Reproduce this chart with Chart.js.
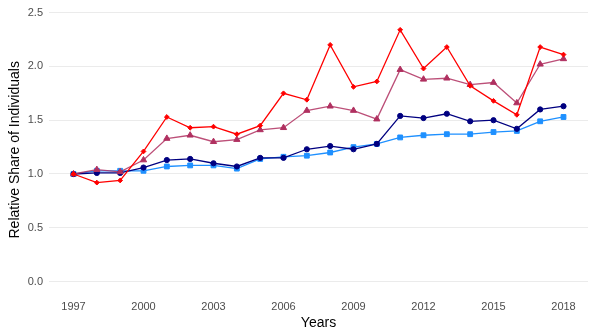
<!DOCTYPE html>
<html>
<head>
<meta charset="utf-8">
<script src="https://cdn.jsdelivr.net/npm/chart.js@4/dist/chart.umd.min.js"></script>
<style>
  html, body { margin: 0; padding: 0; background: #ffffff; }
  #wrap { width: 600px; height: 332px; }
</style>
</head>
<body>
<div id="wrap"><canvas id="c" width="600" height="332"></canvas></div>
<script>
// Years on the x axis
const years = [1997, 1998, 1999, 2000, 2001, 2002, 2003, 2004, 2005, 2006, 2007,
               2008, 2009, 2010, 2011, 2012, 2013, 2014, 2015, 2016, 2017, 2018];

// Relative share series (1997 = 1.0)
const seriesRed = [1.00, 0.92, 0.94, 1.21, 1.53, 1.43, 1.44, 1.37, 1.45, 1.75, 1.69,
                   2.20, 1.81, 1.86, 2.34, 1.98, 2.18, 1.82, 1.68, 1.55, 2.18, 2.11];
const seriesMaroon = [1.00, 1.04, 1.02, 1.13, 1.33, 1.36, 1.30, 1.32, 1.41, 1.43, 1.59,
                      1.63, 1.59, 1.51, 1.97, 1.88, 1.89, 1.83, 1.85, 1.66, 2.02, 2.07];
const seriesNavy = [1.00, 1.01, 1.01, 1.06, 1.13, 1.14, 1.10, 1.07, 1.15, 1.15, 1.23,
                    1.26, 1.23, 1.28, 1.54, 1.52, 1.56, 1.49, 1.50, 1.42, 1.60, 1.63];
const seriesBlue = [1.00, 1.03, 1.03, 1.03, 1.07, 1.08, 1.08, 1.05, 1.14, 1.16, 1.17,
                    1.20, 1.25, 1.28, 1.34, 1.36, 1.37, 1.37, 1.39, 1.40, 1.49, 1.53];

// Tick labels
const xTicks = [1997, 2000, 2003, 2006, 2009, 2012, 2015, 2018];
const yTicks = [0.0, 0.5, 1.0, 1.5, 2.0, 2.5];

const toPoints = arr => arr.map((v, i) => ({ x: years[i], y: v }));

function series(values, color, lineColor, style, radius) {
  return {
    data: toPoints(values),
    borderColor: lineColor,
    backgroundColor: color,
    borderWidth: 1.3,
    pointStyle: style,
    pointRadius: radius,
    pointHoverRadius: radius,
    pointBorderWidth: 1,
    pointBorderColor: color,
    pointBackgroundColor: color,
    tension: 0,
    fill: false
  };
}

const tickFont = { family: "'Liberation Sans', Arial, sans-serif", size: 11 };
const titleFont = { family: "'Liberation Sans', Arial, sans-serif", size: 14 };

new Chart(document.getElementById('c'), {
  type: 'line',
  data: {
    datasets: [
      series(seriesRed, '#FF0000', '#FF0000', 'rectRot', 2.4),
      series(seriesMaroon, '#B03060', 'rgba(176,48,96,0.85)', 'triangle', 3.6),
      series(seriesNavy, '#000080', '#000080', 'circle', 2.6),
      series(seriesBlue, '#1E90FF', '#1E90FF', 'rect', 3.4)
    ]
  },
  options: {
    responsive: false,
    animation: false,
    events: [],
    layout: { padding: { left: 0, right: 12, top: 0, bottom: 0 } },
    plugins: { legend: { display: false }, tooltip: { enabled: false } },
    scales: {
      x: {
        type: 'linear',
        min: 1995.95,
        max: 2019.05,
        afterBuildTicks: s => { s.ticks = xTicks.map(v => ({ value: v })); },
        afterFit: s => { s.height = 45; },
        grid: { display: false, drawTicks: false },
        border: { display: false },
        ticks: {
          color: '#4D4D4D',
          font: tickFont,
          padding: 13,
          maxRotation: 0,
          autoSkip: false,
          callback: v => String(v)
        },
        title: {
          display: true,
          text: 'Years',
          color: '#000000',
          font: titleFont,
          padding: { top: 1, bottom: 0 }
        }
      },
      y: {
        type: 'linear',
        min: -0.05,
        max: 2.5,
        afterBuildTicks: s => { s.ticks = yTicks.map(v => ({ value: v })); },
        afterFit: s => { s.width = 49; },
        grid: { color: '#EBEBEB', lineWidth: 1.1, drawTicks: false },
        border: { display: false },
        ticks: {
          color: '#4D4D4D',
          font: tickFont,
          padding: 6,
          callback: v => v.toFixed(1)
        },
        title: {
          display: true,
          text: 'Relative Share of Individuals',
          color: '#000000',
          font: titleFont,
          padding: { top: 7, bottom: 0 }
        }
      }
    }
  }
});
</script>
</body>
</html>
